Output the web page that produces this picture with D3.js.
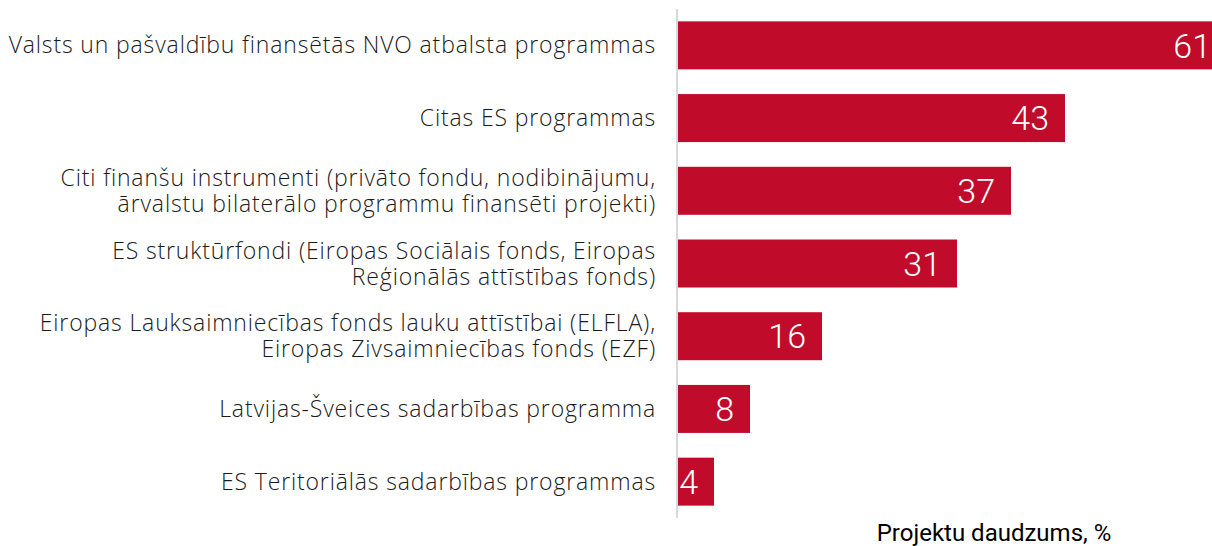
<!DOCTYPE html>
<html>
<head>
<meta charset="utf-8">
<script src="https://cdn.jsdelivr.net/npm/d3@7"></script>
<style>
  body { margin: 0; background: #fff; overflow: hidden; }
</style>
</head>
<body>
<div id="chart"></div>
<script>
const width = 1212;
const height = 546;

// data
const categories = [
  ["Valsts un pašvaldību finansētās NVO atbalsta programmas"],
  ["Citas ES programmas"],
  ["Citi finanšu instrumenti (privāto fondu, nodibinājumu,", "ārvalstu bilaterālo programmu finansēti projekti)"],
  ["ES struktūrfondi (Eiropas Sociālais fonds, Eiropas", "Reģionālās attīstības fonds)"],
  ["Eiropas Lauksaimniecības fonds lauku attīstībai (ELFLA),", "Eiropas Zivsaimniecības fonds (EZF)"],
  ["Latvijas-Šveices sadarbības programma"],
  ["ES Teritoriālās sadarbības programmas"]
];
const values = [61, 43, 37, 31, 16, 8, 4];
const axisTitle = "Projektu daudzums, %";

const labelFont = "'Open Sans', 'DejaVu Sans Condensed', sans-serif";

const svg = d3.select("#chart")
  .append("svg")
  .attr("width", width)
  .attr("height", height);

// plot area runs off the right edge, the 61 bar gets clipped like in the original
const x = d3.scaleLinear()
  .domain([0, 60])
  .range([678, 1218]);

const y = d3.scaleBand()
  .domain(d3.range(values.length))
  .range([9, 518])
  .paddingInner(0.34)
  .paddingOuter(0.17);

svg.selectAll("rect.bar")
  .data(values)
  .enter()
  .append("rect")
  .attr("class", "bar")
  .attr("x", x(0))
  .attr("y", (d, i) => y(i))
  .attr("width", d => x(d) - x(0))
  .attr("height", y.bandwidth())
  .attr("fill", "#c10b2a");

// vertical axis line
svg.append("line")
  .attr("x1", x(0) - 1)
  .attr("x2", x(0) - 1)
  .attr("y1", 9)
  .attr("y2", 518)
  .attr("stroke", "#d9d9d9")
  .attr("stroke-width", 2);

// value labels inside bars
svg.selectAll("text.val")
  .data(values)
  .enter()
  .append("text")
  .attr("class", "val")
  .attr("x", d => x(d) - 16)
  .attr("y", (d, i) => y(i) + y.bandwidth() / 2)
  .attr("dy", "0.36em")
  .attr("text-anchor", "end")
  .attr("fill", "#fff")
  .style("font-family", "Roboto, sans-serif")
  .style("font-weight", 300)
  .style("font-size", "34px")
  .text(d => d);

// category labels, one or two lines
const lineH = 26;
categories.forEach((lines, i) => {
  const cy = y(i) + y.bandwidth() / 2;
  const t = svg.append("text")
    .attr("text-anchor", "end")
    .attr("fill", "#1a1a1a")
    .style("font-family", labelFont)
    .style("font-weight", 300)
    .style("font-size", "23px")
    .style("letter-spacing", "0.85px");
  lines.forEach((line, j) => {
    t.append("tspan")
      .attr("x", 656)
      .attr("y", cy + (j - (lines.length - 1) / 2) * lineH)
      .attr("dy", "0.35em")
      .text(line);
  });
});

svg.append("text")
  .attr("x", 994)
  .attr("y", 541)
  .attr("text-anchor", "middle")
  .attr("fill", "#000")
  .style("font-family", "Roboto, sans-serif")
  .style("font-size", "24px")
  .text(axisTitle);
</script>
</body>
</html>
